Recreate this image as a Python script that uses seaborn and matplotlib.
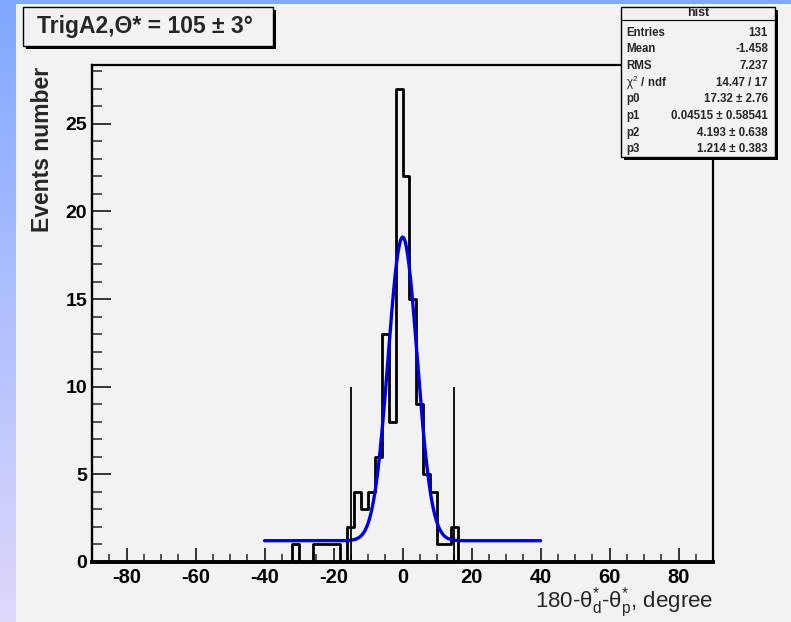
import numpy as np
import pandas as pd
import matplotlib
matplotlib.use("Agg")
import matplotlib.pyplot as plt
from matplotlib.patches import Rectangle
import seaborn as sns

# Données du histogramme (bins de 2 degrés, bords inférieurs de -32 à 14)
bin_low = np.arange(-32, 16, 2)
counts = [1, 0, 0, 1, 1, 1, 1, 0, 2, 4, 3, 4, 6, 13, 8, 27, 22, 15, 9, 5, 4, 1, 1, 2]

# Coupures verticales
cut_x = [-15, 15]
cut_height = 10

# Paramètres de l'ajustement (gauss + constante)
fit_params = {"p0": 17.32, "p1": 0.04515, "p2": 4.193, "p3": 1.214}
fit_range = (-40, 40)

# Boîte de statistiques
stat_names = ["Entries", "Mean", "RMS", r"$\chi^{2}$ / ndf", "p0", "p1", "p2", "p3"]
stat_values = ["131", "-1.458", "7.237", "14.47 / 17", "17.32 ± 2.76",
               "0.04515 ± 0.58541", "4.193 ± 0.638", "1.214 ± 0.383"]

x_ticks = [-80, -60, -40, -20, 0, 20, 40, 60, 80]
y_ticks = [0, 5, 10, 15, 20, 25]

W, H = 791, 622
BG = "#f2f2f2"

sns.set_theme(style="ticks")
plt.rcParams["font.family"] = ["Liberation Sans", "DejaVu Sans"]
plt.rcParams["mathtext.fontset"] = "custom"
plt.rcParams["mathtext.rm"] = "Liberation Sans"
plt.rcParams["mathtext.it"] = "Liberation Sans"
plt.rcParams["mathtext.bf"] = "Liberation Sans:bold"


def fx(x):
    return x / W


def fy(y):
    return 1 - y / H


fig = plt.figure(figsize=(W / 100, H / 100), dpi=100, facecolor=BG)

# Bandes bleues (cadre de la diapo)
ax_left = fig.add_axes([0, 0, fx(16), 1], zorder=-1)
top_c = np.array([128, 168, 255]) / 255
bot_c = np.array([222, 216, 252]) / 255
t = np.linspace(0, 1, 200)[:, None]
grad = (top_c[None, :] * (1 - t) + bot_c[None, :] * t)[:, None, :]
ax_left.imshow(grad, aspect="auto", extent=[0, 1, 0, 1])
ax_left.axis("off")
ax_top = fig.add_axes([0, fy(4), 1, 4 / H], zorder=-1)
ax_top.set_facecolor("#80a8ff")
ax_top.set_xticks([])
ax_top.set_yticks([])
for s in ax_top.spines.values():
    s.set_visible(False)

# Axes principaux
ax = fig.add_axes([fx(92), fy(562), fx(713) - fx(92), fy(65) - fy(562)])
ax.set_facecolor(BG)

edges = [float(e) for e in range(-90, 92, 2)]
hist_df = pd.DataFrame({"x": bin_low + 1.0, "w": counts})
sns.histplot(data=hist_df, x="x", weights="w", bins=edges, element="step",
             fill=False, color="black", linewidth=2.0, ax=ax)

fit_x = np.linspace(fit_range[0], fit_range[1], 400)
p = fit_params
fit_y = p["p0"] * np.exp(-0.5 * ((fit_x - p["p1"]) / p["p2"]) ** 2) + p["p3"]
sns.lineplot(x=fit_x, y=fit_y, color="#0000e6", linewidth=2.4, ax=ax)

ax.vlines(cut_x, 0, cut_height, color="black", linewidth=1.3)

ax.set_xlim(-90, 90)
ax.set_ylim(0, 28.35)
ax.set_xticks(x_ticks)
ax.set_xticks(np.arange(-85, 90, 5), minor=True)
ax.set_yticks(y_ticks)
ax.set_yticks(np.arange(0, 29, 1), minor=True)
ax.set_xticklabels([str(v) for v in x_ticks], fontsize=14.5, fontweight="bold")
ax.set_yticklabels([str(v) for v in y_ticks], fontsize=14, fontweight="bold")
ax.tick_params(axis="x", which="major", direction="in", length=10, width=1.1,
               pad=4, colors="black")
ax.tick_params(axis="x", which="minor", direction="in", length=5.5, width=1.1)
ax.tick_params(axis="y", which="major", direction="in", length=13.5, width=1.1,
               pad=3.5, colors="black")
ax.tick_params(axis="y", which="minor", direction="in", length=7, width=1.1)
ax.tick_params(top=False, right=False, which="both")

for name, s in ax.spines.items():
    s.set_visible(True)
    s.set_color("black")
ax.spines["bottom"].set_linewidth(2.8)
ax.spines["left"].set_linewidth(1.7)
ax.spines["top"].set_linewidth(1.6)
ax.spines["right"].set_linewidth(1.6)

ax.set_ylabel("Events number", fontsize=16.5, fontweight="bold", loc="top")
ax.yaxis.set_label_coords(-0.061, 0.996)
ax.set_xlabel("180-θ$_{d}^{*}$-θ$_{p}^{*}$, degree",
              fontsize=16, loc="right")
ax.xaxis.set_label_coords(1.0, -0.048)

# Boîte de titre avec ombre
fig.patches.append(Rectangle((fx(26), fy(49)), fx(250), 39 / H, transform=fig.transFigure,
                             facecolor="black", edgecolor="none", zorder=5))
fig.patches.append(Rectangle((fx(23), fy(46)), fx(250), 39 / H, transform=fig.transFigure,
                             facecolor=BG, edgecolor="black", linewidth=1.0, zorder=6))
fig.text(fx(145), fy(27), "TrigA2,Θ* = 105 ± 3°", fontsize=16.5, fontweight="bold",
         ha="center", va="center", zorder=7)

# Boîte de statistiques avec ombre
fig.patches.append(Rectangle((fx(624), fy(160)), fx(154), 150 / H, transform=fig.transFigure,
                             facecolor="black", edgecolor="none", zorder=5))
fig.patches.append(Rectangle((fx(621), fy(157)), fx(154), 150 / H, transform=fig.transFigure,
                             facecolor=BG, edgecolor="black", linewidth=1.0, zorder=6))
fig.lines.append(plt.Line2D([fx(621), fx(775)], [fy(20), fy(20)], transform=fig.transFigure,
                            color="black", linewidth=0.8, zorder=7))
fig.text(fx(698), fy(13), "hist", fontsize=9, fontweight="bold", ha="center",
         va="center", zorder=7)
for i, (nm, val) in enumerate(zip(stat_names, stat_values)):
    yy = fy(32.5 + 16.7 * i)
    fig.text(fx(626), yy, nm, fontsize=8.3, fontweight="bold", ha="left",
             va="center", zorder=7)
    fig.text(fx(768), yy, val, fontsize=8.3, fontweight="bold", ha="right",
             va="center", zorder=7)

fig.savefig("out.png", dpi=100, facecolor=BG)
